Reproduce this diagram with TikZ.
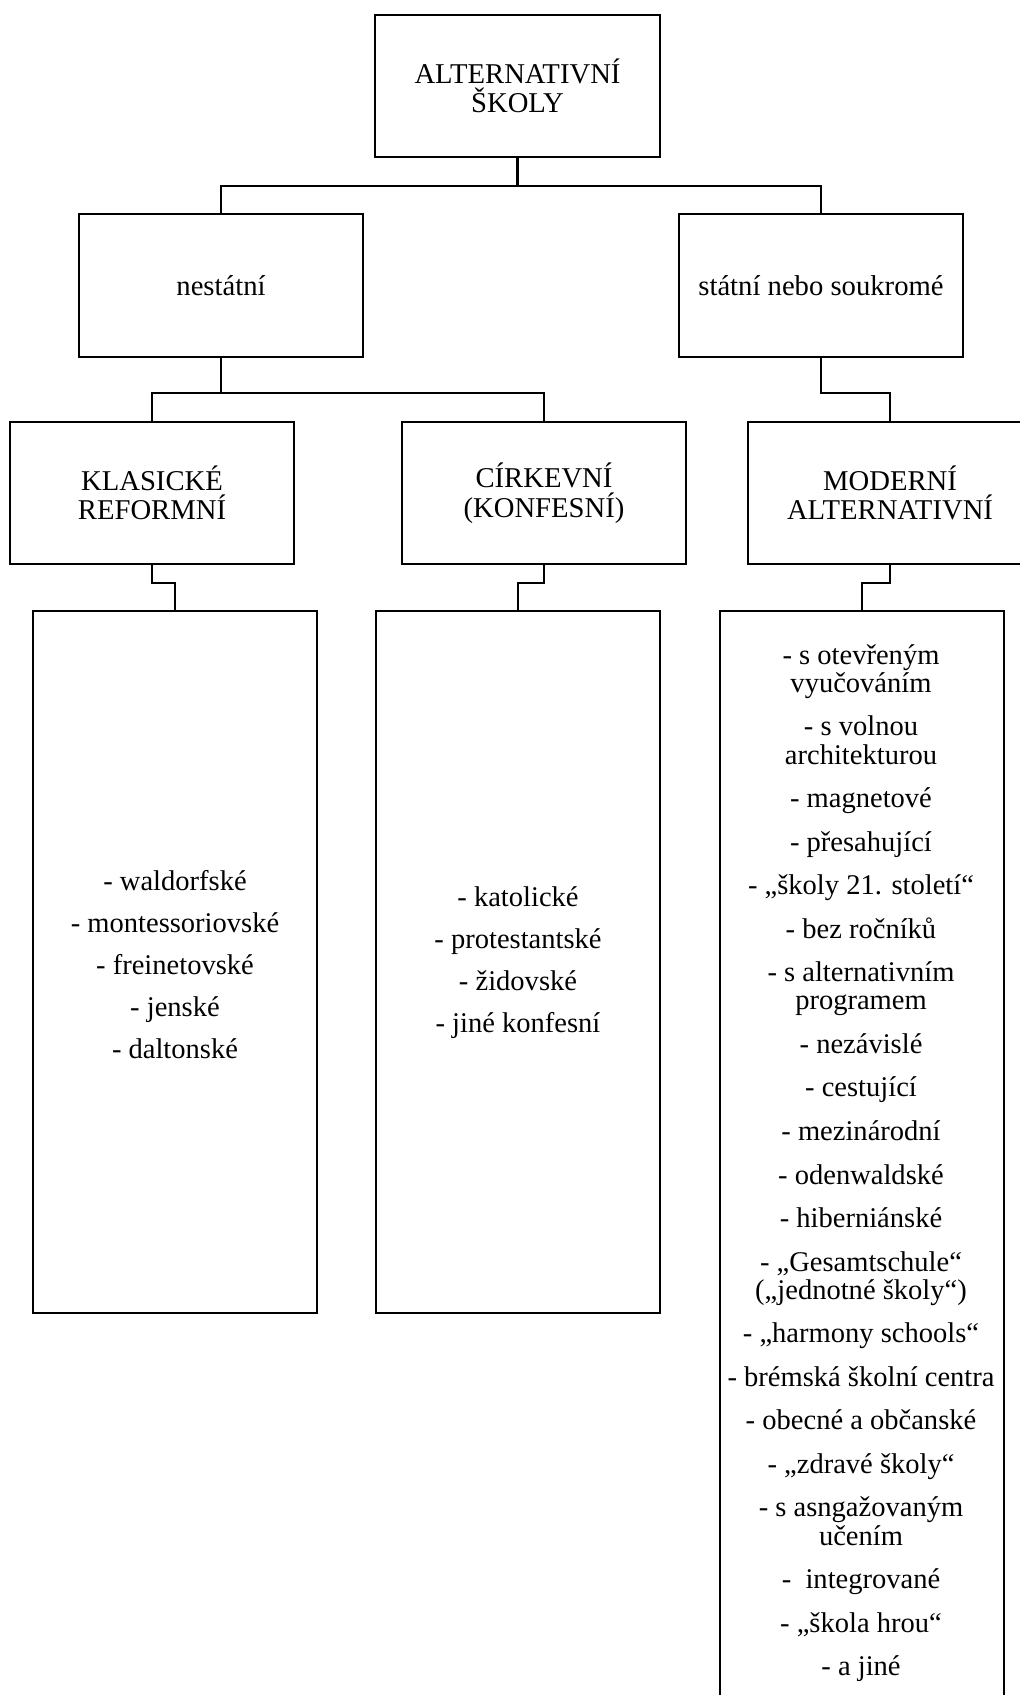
\documentclass[tikz,border=0pt]{standalone}
\usepackage{fontspec}
\setmainfont{Liberation Serif}
\begin{document}
\begin{tikzpicture}[x=0.75pt,y=-0.75pt,
  box/.style={draw, line width=1.7pt, rectangle, inner sep=0pt,
    minimum width=213pt, minimum height=106.5pt, align=center,
    font=\fontsize{21.5}{22.2}\selectfont},
  listbox/.style={draw, line width=1.7pt, rectangle, inner sep=0pt,
    minimum width=213pt},
  conn/.style={line width=1.7pt},
  listtext/.style={align=center, inner sep=0pt,
    font=\fontsize{21.4}{31.5}\selectfont},
  longtext/.style={align=center, inner sep=0pt,
    font=\fontsize{21.4}{21.15}\selectfont}]
\useasboundingbox (0,0) rectangle (1020,1695);
\fill[white] (0,0) rectangle (1020,1695);

% level 1
\node[box, minimum width=213.75pt] (top) at (517.5,86) {ALTERNATIVNÍ\\ŠKOLY};
% level 2
\node[box, minimum height=107.25pt] (ns) at (221,285.5) {nestátní};
\node[box, minimum height=107.25pt] (ss) at (821,285.5) {státní nebo soukromé};
% level 3
\node[box] (kl) at (152,493) {KLASICKÉ\\REFORMNÍ};
\node[box] (ci) at (544,493) {CÍRKEVNÍ\\(KONFESNÍ)};
\node[box] (mo) at (890,493) {MODERNÍ\\ALTERNATIVNÍ};
% level 4 boxes
\node[listbox, minimum height=526.5pt] (l1) at (175,962) {};
\node[listbox, minimum height=526.5pt] (l2) at (518,962) {};
\node[listbox, minimum height=825pt] (l3) at (862,1161) {};

% list texts
\node[listtext] (t1) at (175,964.5) {- waldorfské\\- montessoriovské\\- freinetovské\\- jenské\\- daltonské};
\node[listtext] (t2) at (518,963) {- katolické\\- protestantské\\- židovské\\- jiné konfesní};
\node[longtext] (t3) at (861,1163) {- s otevřeným\\vyučováním\\[11.5pt]%
- s volnou\\architekturou\\[11.5pt]%
- magnetové\\[11.5pt]%
- přesahující\\[11.5pt]%
- „školy 21. století“\\[11.5pt]%
- bez ročníků\\[11.5pt]%
- s alternativním\\programem\\[11.5pt]%
- nezávislé\\[11.5pt]%
- cestující\\[11.5pt]%
- mezinárodní\\[11.5pt]%
- odenwaldské\\[11.5pt]%
- hiberniánské\\[11.5pt]%
- „Gesamtschule“\\(„jednotné školy“)\\[11.5pt]%
- „harmony schools“\\[11.5pt]%
- brémská školní centra\\[11.5pt]%
- obecné a občanské\\[11.5pt]%
- „zdravé školy“\\[11.5pt]%
- s asngažovaným\\učením\\[11.5pt]%
-~ integrované\\[11.5pt]%
- „škola hrou“\\[11.5pt]%
- a jiné};

% connectors
\draw[conn] (top.south) -- ++(0,28) -| (ns.north);
\draw[conn] (top.south) -- ++(0,28) -| (ss.north);
\draw[conn] (ns.south) -- ++(0,35) -| (kl.north);
\draw[conn] (ns.south) -- ++(0,35) -| (ci.north);
\draw[conn] (ss.south) -- ++(0,35) -| (mo.north);
\draw[conn] (kl.south) -- ++(0,18) -| (l1.north);
\draw[conn] (ci.south) -- ++(0,18) -| (l2.north);
\draw[conn] (mo.south) -- ++(0,18) -| (l3.north);
\end{tikzpicture}
\end{document}
